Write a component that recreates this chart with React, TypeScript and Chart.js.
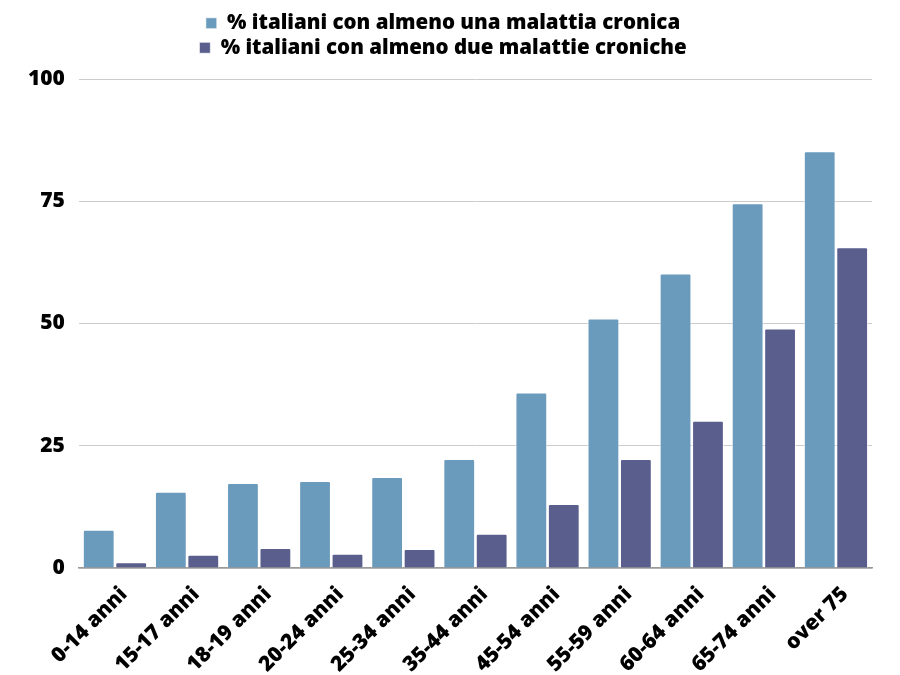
import React, { useRef, useEffect } from "react";
import { Chart, registerables } from "chart.js";

Chart.register(...registerables);

const categories = [
  "0-14 anni",
  "15-17 anni",
  "18-19 anni",
  "20-24 anni",
  "25-34 anni",
  "35-44 anni",
  "45-54 anni",
  "55-59 anni",
  "60-64 anni",
  "65-74 anni",
  "over 75",
];
const almenoUna = [7.8, 15.6, 17.4, 17.8, 18.6, 22.3, 35.9, 51.0, 60.2, 74.6, 85.2];
const almenoDue = [1.2, 2.7, 4.1, 2.9, 3.9, 7.0, 13.1, 22.3, 30.1, 49.0, 65.6];
const yTicks = [0, 25, 50, 75, 100];

const FONT = "'Open Sans', 'Noto Sans', sans-serif";

// extra space under the legend
const legendMargin = {
  id: "legendMargin",
  beforeInit(chart: any) {
    const fit = chart.legend.fit;
    chart.legend.fit = function () {
      fit.bind(chart.legend)();
      this.height += 11;
    };
  },
};

const App: React.FC = () => {
  const canvasRef = useRef<HTMLCanvasElement | null>(null);
  const chartRef = useRef<Chart | null>(null);

  useEffect(() => {
    document.body.style.margin = "0";
    if (!canvasRef.current) return;
    if (chartRef.current) chartRef.current.destroy();

    chartRef.current = new Chart(canvasRef.current, {
      type: "bar",
      data: {
        labels: categories,
        datasets: [
          {
            label: "% italiani con almeno una malattia cronica",
            data: almenoUna,
            backgroundColor: "#6a9bbd",
            borderColor: "rgba(255,255,255,0.7)",
            borderWidth: 1,
            borderRadius: 2,
            borderSkipped: "bottom",
            barPercentage: 0.98,
            categoryPercentage: 0.9,
          },
          {
            label: "% italiani con almeno due malattie croniche",
            data: almenoDue,
            backgroundColor: "#5a5e8d",
            borderColor: "rgba(255,255,255,0.7)",
            borderWidth: 1,
            borderRadius: 2,
            borderSkipped: "bottom",
            barPercentage: 0.98,
            categoryPercentage: 0.9,
          },
        ],
      },
      options: {
        responsive: false,
        animation: false,
        layout: { padding: { top: 9, right: 28, left: 14, bottom: 0 } },
        plugins: {
          legend: {
            position: "top",
            labels: {
              color: "#000",
              font: { family: FONT, size: 20.5, weight: "800" },
              boxWidth: 11,
              boxHeight: 11,
              padding: 4,
            },
          },
          tooltip: { enabled: false },
        },
        scales: {
          x: {
            grid: { display: false, drawTicks: false },
            border: { color: "#999", width: 1.5 },
            afterFit: (scale: any) => {
              scale.height = 107;
            },
            ticks: {
              color: "#000",
              font: { family: FONT, size: 21, weight: "800" },
              minRotation: 45,
              maxRotation: 45,
              padding: 14,
              labelOffset: 9,
            },
          },
          y: {
            min: 0,
            max: 100,
            afterBuildTicks: (scale: any) => {
              scale.ticks = yTicks.map((v) => ({ value: v }));
            },
            grid: { color: "#cccccc", drawTicks: false },
            border: { display: false },
            ticks: {
              color: "#000",
              font: { family: FONT, size: 21, weight: "800" },
              padding: 14,
            },
          },
        },
      },
      plugins: [legendMargin],
    });

    return () => {
      if (chartRef.current) {
        chartRef.current.destroy();
        chartRef.current = null;
      }
    };
  }, []);

  return (
    <div style={{ width: 900, height: 675, background: "#fff" }}>
      <canvas ref={canvasRef} width={900} height={675} />
    </div>
  );
};

export default App;
